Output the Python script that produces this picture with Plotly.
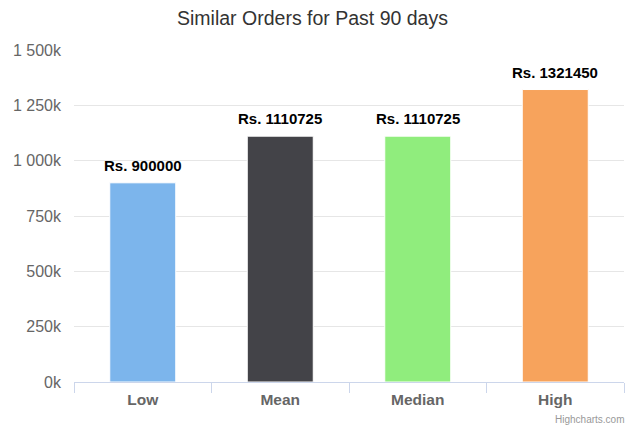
import plotly.graph_objects as go

categories = ["Low", "Mean", "Median", "High"]
values = [900000, 1110725, 1110725, 1321450]
colors = ["#7cb5ec", "#434348", "#90ed7d", "#f7a35c"]
label_texts = ["Rs. " + str(v) for v in values]
tick_vals = [0, 250000, 500000, 750000, 1000000, 1250000, 1500000]
tick_text = ["0k", "250k", "500k", "750k", "1 000k", "1 250k", "1 500k"]

FONT = "Liberation Sans, Arial, Helvetica, sans-serif"

fig = go.Figure()
fig.add_trace(go.Bar(
    x=categories,
    y=values,
    marker=dict(color=colors, line=dict(color="#ffffff", width=1)),
    hoverinfo="skip",
))

for c, v, t in zip(categories, values, label_texts):
    fig.add_annotation(
        x=c, y=v, text="<b>" + t + "</b>", showarrow=False,
        yanchor="bottom", yshift=7,
        font=dict(family=FONT, size=15, color="#000000"),
    )

fig.add_annotation(
    text="Highcharts.com", xref="paper", yref="paper",
    x=1.0, y=0, xanchor="right", yanchor="middle", yshift=-37, xshift=2,
    showarrow=False, font=dict(family=FONT, size=10, color="#999999"),
)

fig.update_layout(
    width=631, height=428,
    margin=dict(l=74, r=7, t=50, b=46),
    paper_bgcolor="#ffffff", plot_bgcolor="#ffffff",
    bargap=0.52,
    showlegend=False,
    title=dict(
        text="Similar Orders for Past 90 days",
        x=(312.5 - 74) / 550, xref="paper", xanchor="center",
        y=1 - 18 / 428, yanchor="middle",
        font=dict(family=FONT, size=19.5, color="#333333"),
    ),
    font=dict(family=FONT),
)

fig.update_xaxes(
    type="category",
    showline=True, linecolor="#ccd6eb", linewidth=1,
    ticks="outside", tickson="boundaries", ticklen=10, tickcolor="#ccd6eb",
    ticklabelstandoff=3,
    showgrid=False,
    tickfont=dict(family=FONT, size=15.5, color="#666666", weight="bold"),
)

fig.update_yaxes(
    range=[0, 1500000],
    tickvals=tick_vals, ticktext=tick_text,
    showgrid=True, gridcolor="#e6e6e6", gridwidth=1,
    zeroline=False, showline=False, ticks="",
    ticklabelstandoff=12,
    tickfont=dict(family=FONT, size=16, color="#666666"),
)

fig.write_html(
    "out.html",
    config={"displayModeBar": False},
    post_script="document.body.style.margin='0';document.body.style.overflow='hidden';",
)
